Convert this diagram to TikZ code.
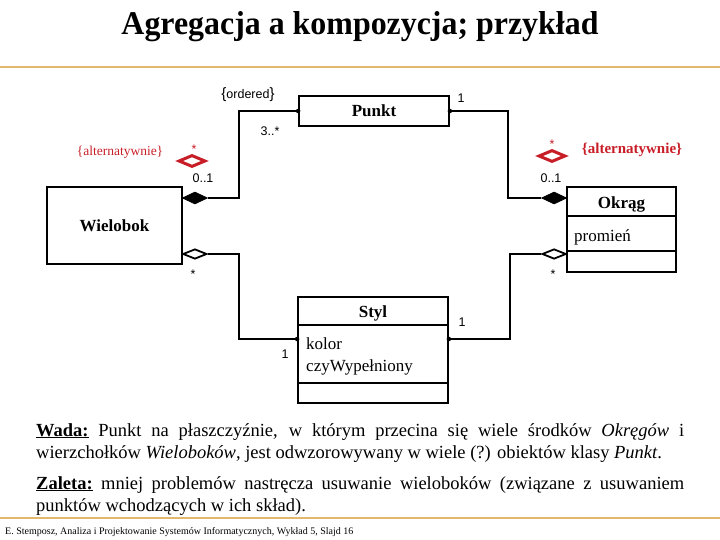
\documentclass[tikz,border=0pt]{standalone}
\usepackage{fontspec}
\setmainfont{Liberation Serif}
\newfontfamily\lsans{Liberation Sans}
\usetikzlibrary{shapes.geometric}
\definecolor{rulecol}{RGB}{226,184,110}
\definecolor{altred}{RGB}{200,30,40}
\tikzset{
 cls/.style={draw, line width=1.8pt, inner sep=0pt},
 conn/.style={line width=1.8pt},
 comp/.style={diamond, draw, fill=black, line width=0.8pt, minimum width=25pt, minimum height=12pt, inner sep=0pt},
 aggr/.style={diamond, draw, fill=white, line width=1.8pt, minimum width=24pt, minimum height=10pt, inner sep=0pt},
 altd/.style={diamond, draw=altred, line width=3pt, minimum width=27pt, minimum height=12pt, inner sep=0pt},
 mult/.style={font=\lsans\fontsize{12.5}{14}\selectfont, inner sep=0pt},
 cname/.style={font=\bfseries\fontsize{17}{20}\selectfont},
 attr/.style={font=\fontsize{17}{20}\selectfont, inner sep=0pt, anchor=base west},
 enddot/.style={circle, fill, inner sep=0pt, minimum size=4.5pt},
 rulel/.style={draw=rulecol, line width=1.5pt},
 body/.style={inner sep=0pt, anchor=base west, font=\fontsize{18.5}{22}\selectfont},
}
\begin{document}
\begin{tikzpicture}[x=1pt,y=-1pt]
\useasboundingbox (0,0) rectangle (720,540);
% title
\node[anchor=base, inner sep=0pt] (title) at (360,35) {\resizebox{477pt}{23pt}{\bfseries Agregacja a kompozycja; przykład}};
\draw[rulel] (0,67) -- (720,67);
\draw[rulel] (0,518) -- (720,518);

% classes
\node[cls, cname, minimum width=150pt, minimum height=30pt] (punkt) at (374,111) {Punkt};
\node[cls, cname, minimum width=135pt, minimum height=77pt] (wiel) at (114.5,225.5) {Wielobok};
\node[cls, minimum width=109pt, minimum height=85pt] (okrag) at (621.5,229.5) {};
\draw[line width=1.8pt] (okrag.west |- 0,216) -- (okrag.east |- 0,216);
\draw[line width=1.8pt] (okrag.west |- 0,251) -- (okrag.east |- 0,251);
\node[cname, inner sep=0pt, anchor=base] (okname) at (621.5,208) {Okrąg};
\node[attr] (prom) at (574,241) {promień};
\node[cls, minimum width=150pt, minimum height=106pt] (styl) at (373,350) {};
\draw[line width=1.8pt] (styl.west |- 0,325) -- (styl.east |- 0,325);
\draw[line width=1.8pt] (styl.west |- 0,383) -- (styl.east |- 0,383);
\node[cname, inner sep=0pt, anchor=base] (stname) at (373,317) {Styl};
\node[attr] (kolor) at (306,349) {kolor};
\node[attr] (czyw) at (306,371) {czyWypełniony};

% diamonds
\node[comp, anchor=west] (dW1) at (182,198) {};
\node[comp, anchor=east] (dO1) at (567,198) {};
\node[aggr, anchor=west] (dW2) at (182,254) {};
\node[aggr, anchor=east] (dO2) at (567,254) {};

% connectors
\draw[conn] (dW1.east) -- ++(31,0) |- (punkt.west);
\draw[conn] (dO1.west) -- ++(-33,0) |- (punkt.east);
\draw[conn] (dW2.east) -- ++(31,0) |- ([yshift=11pt]styl.west);
\draw[conn] (dO2.west) -- ++(-31,0) |- ([yshift=11pt]styl.east);
\node[enddot] (e1) at (punkt.west) {};
\node[enddot] (e2) at (punkt.east) {};
\node[enddot] (e3) at ([yshift=11pt]styl.west) {};
\node[enddot] (e4) at ([yshift=11pt]styl.east) {};

% multiplicities
\node[mult] (ord) at (248,95) {{\fontsize{15}{15}\selectfont\{}ordered{\fontsize{15}{15}\selectfont\}}};
\node[mult] (m1) at (270,131) {3..*};
\node[mult] (m2) at (461,98) {1};
\node[mult] (m3) at (203,178) {0..1};
\node[mult] (m4) at (551,178) {0..1};
\node[mult] (m5) at (193,274) {*};
\node[mult] (m6) at (553,274) {*};
\node[mult] (m7) at (285,354) {1};
\node[mult] (m8) at (462,322) {1};

% alternative (red)
\node[altd] (aL) at (192,161) {};
\node[mult, text=altred] (aLs) at (194,149) {*};
\node[text=altred, inner sep=0pt, font=\fontsize{13.5}{15}\selectfont] (aLt) at (120,152) {\{alternatywnie\}};
\node[altd] (aR) at (552,156) {};
\node[mult, text=altred] (aRs) at (552,144) {*};
\node[text=altred, inner sep=0pt, font=\bfseries\fontsize{15}{17}\selectfont] (aRt) at (632,150) {\{alternatywnie\}};

% body text
\node[body] (wada1) at (36,436) {\makebox[648pt][s]{\underline{\textbf{Wada:}} Punkt na płaszczyźnie, w którym przecina się wiele środków \textit{Okręgów} i}};
\node[body] (wada2) at (36,458) {wierzchołków \textit{Wieloboków}, jest odwzorowywany w wiele (?) obiektów klasy \textit{Punkt}.};
\node[body] (zal1) at (36,489) {\makebox[648pt][s]{\underline{\textbf{Zaleta:}} mniej problemów nastręcza usuwanie wieloboków (związane z usuwaniem}};
\node[body] (zal2) at (36,511) {punktów wchodzących w ich skład).};
\node[body, font=\fontsize{10}{11}\selectfont] (foot) at (5,534) {E. Stemposz, Analiza i Projektowanie Systemów Informatycznych, Wykład 5, Slajd 16};
\end{tikzpicture}
\end{document}
